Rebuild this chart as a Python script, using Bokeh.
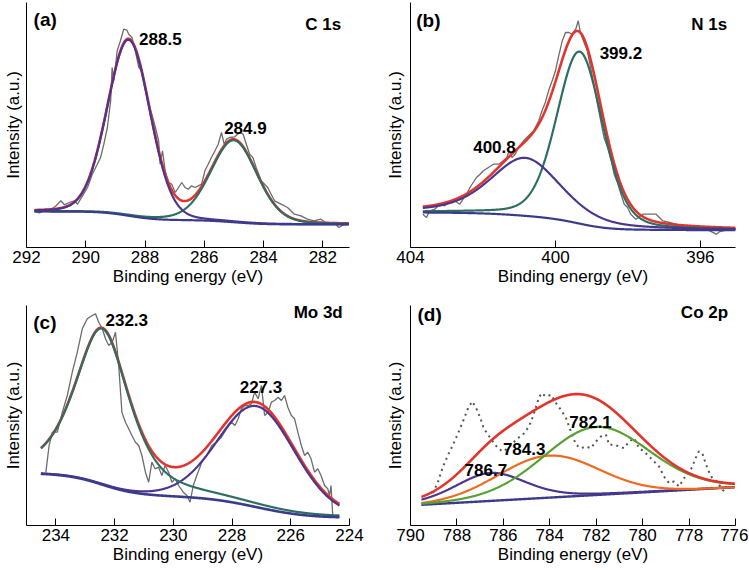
import numpy as np
from bokeh.plotting import figure
from bokeh.layouts import column, row
from bokeh.models import FixedTicker, Label, Range1d
from bokeh.embed import file_html
from bokeh.resources import INLINE

# ---------------- data (binding energy in eV, intensity in a.u.) ----------------
# (a) C 1s
a_raw_be = [291.73, 291.56, 291.39, 291.23, 291.00, 290.84, 290.72, 290.56, 290.39, 290.28,
            290.11, 289.94, 289.78, 289.61, 289.50, 289.39, 289.27, 289.16, 289.11, 289.05,
            288.94, 288.83, 288.72, 288.61, 288.55, 288.44, 288.33, 288.21, 288.10, 287.99,
            287.88, 287.77, 287.65, 287.54, 287.49, 287.41, 287.32, 287.21, 287.10, 286.98,
            286.87, 286.76, 286.65, 286.54, 286.43, 286.31, 286.20, 286.09, 285.98, 285.87,
            285.76, 285.64, 285.53, 285.42, 285.33, 285.25, 285.14, 284.97, 284.81, 284.69,
            284.58, 284.47, 284.36, 284.25, 284.08, 283.86, 283.63, 283.41, 283.19, 283.08,
            282.96, 282.74, 282.52, 282.29, 282.07, 281.85, 281.62, 281.46, 281.29, 281.12]
a_raw_int = [36.0, 34.7, 37.3, 36.7, 41.7, 46.7, 42.7, 45.0, 46.7, 43.3,
             51.7, 60.0, 73.3, 83.3, 90.0, 103.3, 120.0, 146.7, 180.0, 166.7,
             196.7, 206.7, 218.3, 217.3, 213.3, 210.0, 196.7, 180.0, 176.7, 160.0,
             143.3, 133.3, 120.0, 106.7, 83.3, 96.7, 76.7, 65.0, 63.3, 55.0,
             60.0, 65.0, 60.0, 58.3, 61.7, 60.0, 61.7, 63.3, 76.7, 83.3,
             90.0, 96.7, 103.3, 115.0, 103.3, 108.3, 110.0, 110.7, 115.0, 113.3,
             103.3, 93.3, 90.0, 80.0, 66.7, 60.0, 46.7, 43.3, 40.0, 36.7,
             33.3, 31.7, 28.3, 26.7, 28.3, 24.0, 25.0, 20.0, 22.7, 23.3]
a_peak_be = [288.55, 285.0]
a_peak_amp = [176.0, 82.0]
a_peak_fwhm = [1.7, 1.85]
a_peak_eta = [0.1, 0.2]
a_bg_ends = [36.0, 23.0]
a_fit_span = [291.73, 281.12]
a_peak_labels = ["288.5", "284.9"]

# (b) N 1s
b_raw_be = [403.66, 403.56, 403.47, 403.33, 403.19, 403.06, 402.92, 402.78, 402.64, 402.55,
            402.45, 402.36, 402.27, 402.18, 402.08, 401.99, 401.85, 401.71, 401.57, 401.44,
            401.34, 401.28, 401.20, 401.11, 401.02, 400.88, 400.74, 400.60, 400.46, 400.37,
            400.28, 400.19, 400.09, 400.00, 399.91, 399.81, 399.72, 399.63, 399.54, 399.44,
            399.37, 399.31, 399.21, 399.12, 399.03, 398.94, 398.84, 398.75, 398.66, 398.56,
            398.47, 398.38, 398.29, 398.19, 398.10, 398.01, 397.92, 397.78, 397.59, 397.41,
            397.22, 397.04, 396.85, 396.67, 396.48, 396.30, 396.11, 395.93, 395.74, 395.56,
            395.46, 395.28, 395.05]
b_raw_int = [33.3, 30.0, 36.7, 38.3, 43.3, 41.7, 45.0, 46.7, 43.3, 48.3,
             53.3, 60.0, 65.0, 70.0, 73.3, 76.7, 80.0, 83.3, 83.3, 86.7,
             90.0, 96.7, 90.0, 93.3, 100.0, 106.7, 111.7, 116.7, 126.7, 136.7,
             145.0, 156.7, 166.7, 176.7, 191.7, 206.7, 215.0, 215.0, 213.3, 218.3,
             226.7, 215.0, 205.0, 196.7, 180.0, 163.3, 143.3, 126.7, 110.0, 100.0,
             90.0, 73.3, 65.0, 53.3, 43.3, 40.0, 33.3, 28.3, 33.3, 33.3,
             33.3, 26.7, 25.0, 23.3, 20.0, 20.7, 18.3, 20.0, 16.7, 13.3,
             16.0, 17.3, 18.3]
b_peak_be = [399.33, 400.83]
b_peak_amp = [172.0, 58.0]
b_peak_fwhm = [1.5, 2.3]
b_peak_eta = [0.25, 0.5]
b_bg_ends = [35.0, 17.3]
b_fit_span = [403.66, 395.02]
b_peak_labels = ["399.2", "400.8"]

# (c) Mo 3d
c_raw_be = [234.34, 234.23, 234.12, 233.95, 233.78, 233.61, 233.44, 233.27, 233.10, 232.93,
            232.76, 232.65, 232.54, 232.42, 232.31, 232.20, 232.08, 231.97, 231.86, 231.75,
            231.63, 231.52, 231.41, 231.29, 231.18, 231.07, 230.95, 230.84, 230.73, 230.62,
            230.50, 230.39, 230.28, 230.16, 230.05, 229.94, 229.82, 229.66, 229.54, 229.43,
            229.32, 229.20, 229.03, 228.86, 228.69, 228.53, 228.36, 228.19, 228.02, 227.90,
            227.79, 227.68, 227.56, 227.45, 227.34, 227.23, 227.11, 227.00, 226.89, 226.77,
            226.66, 226.55, 226.43, 226.32, 226.21, 226.10, 225.98, 225.87, 225.76, 225.64,
            225.53, 225.42, 225.31, 225.19, 225.08, 224.97, 224.85, 224.74, 224.68, 224.63,
            224.57, 224.51]
c_raw_int = [53.3, 80.0, 93.3, 93.3, 113.3, 130.0, 153.3, 173.3, 196.7, 206.7,
             210.0, 211.7, 203.3, 196.7, 186.7, 180.0, 183.3, 193.3, 160.0, 113.3,
             103.3, 96.7, 90.0, 83.3, 80.0, 70.0, 53.3, 43.3, 63.3, 56.7,
             58.3, 50.0, 60.0, 53.3, 43.3, 46.7, 40.0, 33.3, 30.0, 23.3,
             40.0, 50.0, 63.3, 70.0, 80.0, 83.3, 88.3, 96.7, 103.3, 100.0,
             106.7, 116.7, 120.0, 120.0, 121.7, 133.3, 126.7, 140.0, 110.0, 113.3,
             123.3, 125.0, 128.3, 125.0, 130.0, 118.3, 110.0, 106.7, 93.3, 80.0,
             70.0, 73.3, 66.7, 53.3, 56.7, 50.0, 40.0, 36.7, 30.0, 40.0,
             10.0, 8.3]
c_peak_be = [232.42, 227.15]
c_peak_amp = [156.0, 101.0]
c_peak_fwhm = [2.2, 3.1]
c_peak_eta = [0.6, 0.1]
c_bg_ends = [51.7, 8.3]
c_fit_span = [234.51, 224.34]
c_peak_labels = ["232.3", "227.3"]

# (d) Co 2p
d_raw_be = [789.03, 788.81, 788.60, 788.38, 788.17, 787.95, 787.74, 787.52, 787.34, 787.17,
            786.99, 786.85, 786.66, 786.45, 786.24, 786.02, 785.81, 785.59, 785.38, 785.16,
            784.95, 784.80, 784.66, 784.52, 784.37, 784.16, 783.94, 783.73, 783.52, 783.30,
            783.09, 782.87, 782.66, 782.44, 782.23, 782.01, 781.80, 781.58, 781.44, 781.23,
            781.01, 780.80, 780.58, 780.37, 780.15, 779.94, 779.72, 779.51, 779.29, 779.08,
            778.86, 778.65, 778.43, 778.22, 778.00, 777.86, 777.72, 777.58, 777.43, 777.29,
            777.15, 777.00, 776.79, 776.57, 776.36]
d_raw_int = [32.3, 44.0, 59.0, 70.7, 80.7, 92.3, 104.0, 117.3, 124.0, 117.3,
             107.3, 97.3, 90.7, 84.0, 77.3, 74.0, 77.3, 82.3, 87.3, 90.7,
             97.3, 104.0, 114.0, 124.0, 132.3, 129.0, 130.7, 122.3, 115.7, 107.3,
             94.0, 80.7, 77.3, 79.0, 77.3, 84.0, 89.0, 90.7, 80.7, 80.7,
             79.0, 77.3, 84.0, 87.3, 77.3, 74.0, 69.0, 64.0, 59.0, 49.0,
             42.3, 44.0, 39.0, 47.3, 52.3, 59.0, 67.3, 74.0, 72.3, 62.3,
             54.0, 47.3, 44.0, 35.7, 32.3]
d_peak_be = [786.55, 784.05, 782.0]
d_peak_amp = [28.0, 42.0, 68.0]
d_peak_fwhm = [3.6, 5.1, 5.4]
d_peak_eta = [0.3, 0.0, 0.1]
d_bg_ends = [20.7, 38.3]
d_fit_span = [789.53, 776.03]
d_peak_labels = ["786.7", "784.3", "782.1"]

x_title = "Binding energy (eV)"
y_title = "Intensity (a.u.)"

# ---------------- helpers ----------------
FONT = "Liberation Sans"
RED = "#e4332b"
TEAL = "#2c6e62"
PURPLE = "#4b358f"
NAVY = "#3a3b8c"
GRAY = "#6c6c6c"
GREEN = "#56a130"
ORANGE = "#ef6a1f"


def pv(x, c, a, w, eta):
    t = (x - c) / w
    return a * (eta / (1.0 + 4.0 * t * t) + (1.0 - eta) * np.exp(-4.0 * np.log(2.0) * t * t))


def shirley(x, total, b_hi, b_lo):
    xs = x[::-1]
    ys = total[::-1]
    cum = np.concatenate([[0.0], np.cumsum(0.5 * (ys[1:] + ys[:-1]) * np.diff(xs))])
    return (b_lo + (b_hi - b_lo) * cum / cum[-1])[::-1]


def make_fig(w, h, bl, br, bt, bb, xr, ytop, ticks, ystand):
    p = figure(width=w, height=h, x_range=Range1d(xr[0], xr[1]), y_range=Range1d(0, ytop),
               output_backend="svg", toolbar_location=None,
               min_border_left=bl, min_border_right=br, min_border_top=bt, min_border_bottom=bb)
    p.outline_line_color = None
    p.grid.visible = False
    p.background_fill_color = "white"
    p.border_fill_color = "white"
    xa = p.xaxis[0]
    xa.ticker = FixedTicker(ticks=ticks, minor_ticks=[])
    xa.axis_line_color = "black"
    xa.major_tick_line_color = "black"
    xa.major_tick_in = 7
    xa.major_tick_out = 0
    xa.minor_tick_line_color = None
    xa.major_label_text_font = FONT
    xa.major_label_text_font_size = "17px"
    xa.major_label_text_color = "black"
    xa.major_label_standoff = 3
    xa.axis_label = x_title
    xa.axis_label_text_font = FONT
    xa.axis_label_text_font_size = "17px"
    xa.axis_label_text_font_style = "normal"
    xa.axis_label_text_color = "black"
    xa.axis_label_standoff = 1
    ya = p.yaxis[0]
    ya.ticker = FixedTicker(ticks=[], minor_ticks=[])
    ya.axis_line_color = "black"
    ya.major_tick_line_color = None
    ya.minor_tick_line_color = None
    ya.major_label_standoff = 0
    ya.axis_label = y_title
    ya.axis_label_text_font = FONT
    ya.axis_label_text_font_size = "17px"
    ya.axis_label_text_font_style = "normal"
    ya.axis_label_text_color = "black"
    ya.axis_label_standoff = ystand
    return p


def add_text(p, x, y, t, size="17px", align="left"):
    p.add_layout(Label(x=x, y=y, text=t, text_font=FONT, text_font_size=size,
                       text_font_style="bold", text_color="black",
                       text_align=align, text_baseline="alphabetic"))


def fit_curves(span, be, amp, fwhm, eta):
    x = np.linspace(span[0], span[1], 700)
    comps = [pv(x, c, a, w, e) for c, a, w, e in zip(be, amp, fwhm, eta)]
    return x, comps


# ---------------- panel (a) ----------------
pa = make_fig(375, 290, 24, 26, 2, 43, (292, 281.1), 245,
              [292, 290, 288, 286, 284, 282], 4)
x, comps = fit_curves(a_fit_span, a_peak_be, a_peak_amp, a_peak_fwhm, a_peak_eta)
total = comps[0] + comps[1]
bg = shirley(x, total, a_bg_ends[0], a_bg_ends[1])
pa.line(a_raw_be, a_raw_int, line_color=GRAY, line_width=1.3)
pa.line(x, bg + total, line_color=RED, line_width=2.6)
pa.line(x, bg + comps[1], line_color=TEAL, line_width=2.2)
pa.line(x, bg + comps[0], line_color=PURPLE, line_width=2.2)
pa.line(x, bg, line_color=NAVY, line_width=2.2)
add_text(pa, 288.20, 208.5, a_peak_labels[0])
add_text(pa, 285.33, 119.7, a_peak_labels[1])
add_text(pa, 291.76, 228.5, "(a)", size="19px")
add_text(pa, 281.38, 223, "C 1s", align="right")

# ---------------- panel (b) ----------------
pb = make_fig(373, 290, 35, 13, 2, 43, (404, 395.03), 245,
              [404, 400, 396], 6)
x, comps = fit_curves(b_fit_span, b_peak_be, b_peak_amp, b_peak_fwhm, b_peak_eta)
total = comps[0] + comps[1]
bg = shirley(x, total, b_bg_ends[0], b_bg_ends[1])
pb.line(b_raw_be, b_raw_int, line_color=GRAY, line_width=1.3)
pb.line(x, bg + total, line_color=RED, line_width=2.6)
pb.line(x, bg + comps[0], line_color=TEAL, line_width=2.2)
pb.line(x, bg + comps[1], line_color=PURPLE, line_width=2.2)
pb.line(x, bg, line_color=NAVY, line_width=2.2)
add_text(pb, 398.78, 195, b_peak_labels[0])
add_text(pb, 402.27, 100.3, b_peak_labels[1])
add_text(pb, 403.84, 227.5, "(b)", size="19px")
add_text(pb, 395.26, 223, "N 1s", align="right")

# ---------------- panel (c) ----------------
pc = make_fig(375, 280, 24, 26, 15, 45, (235, 224), 220,
              [234, 232, 230, 228, 226, 224], 4)
x, comps = fit_curves(c_fit_span, c_peak_be, c_peak_amp, c_peak_fwhm, c_peak_eta)
total = comps[0] + comps[1]
bg = shirley(x, total, c_bg_ends[0], c_bg_ends[1])
pc.line(c_raw_be, c_raw_int, line_color=GRAY, line_width=1.3)
pc.line(x, bg + total, line_color=RED, line_width=2.6)
pc.line(x, bg + comps[1], line_color=PURPLE, line_width=2.2)
pc.line(x, bg + comps[0], line_color=TEAL, line_width=2.2)
pc.line(x, bg, line_color=NAVY, line_width=2.6)
add_text(pc, 232.31, 206, c_peak_labels[0])
add_text(pc, 227.74, 138.3, c_peak_labels[1])
add_text(pc, 234.77, 203.3, "(c)", size="19px")
add_text(pc, 224.23, 212.7, "Mo 3d", align="right")

# ---------------- panel (d) ----------------
pd_ = make_fig(373, 280, 35, 13, 15, 45, (790, 776), 220,
               [790, 788, 786, 784, 782, 780, 778, 776], 6)
x, comps = fit_curves(d_fit_span, d_peak_be, d_peak_amp, d_peak_fwhm, d_peak_eta)
total = comps[0] + comps[1] + comps[2]
bg = d_bg_ends[0] + (d_bg_ends[1] - d_bg_ends[0]) * (d_fit_span[0] - x) / (d_fit_span[0] - d_fit_span[1])
pd_.line(d_raw_be, d_raw_int, line_color="#555555", line_width=2.0, line_dash="2 4")
pd_.line(x, bg, line_color=NAVY, line_width=2.4)
pd_.line(x, bg + comps[0], line_color=PURPLE, line_width=2.2)
pd_.line(x, bg + comps[1], line_color=ORANGE, line_width=2.2)
pd_.line(x, bg + comps[2], line_color=GREEN, line_width=2.2)
pd_.line(x, bg + total, line_color=RED, line_width=2.6)
add_text(pd_, 783.16, 103.3, d_peak_labels[2])
add_text(pd_, 786.02, 76.3, d_peak_labels[1])
add_text(pd_, 787.67, 55.7, d_peak_labels[0])
add_text(pd_, 789.7, 211, "(d)", size="19px")
add_text(pd_, 776.32, 213.3, "Co 2p", align="right")

layout = column(row(pa, pb), row(pc, pd_))
open("out.html", "w").write(file_html(layout, INLINE))
